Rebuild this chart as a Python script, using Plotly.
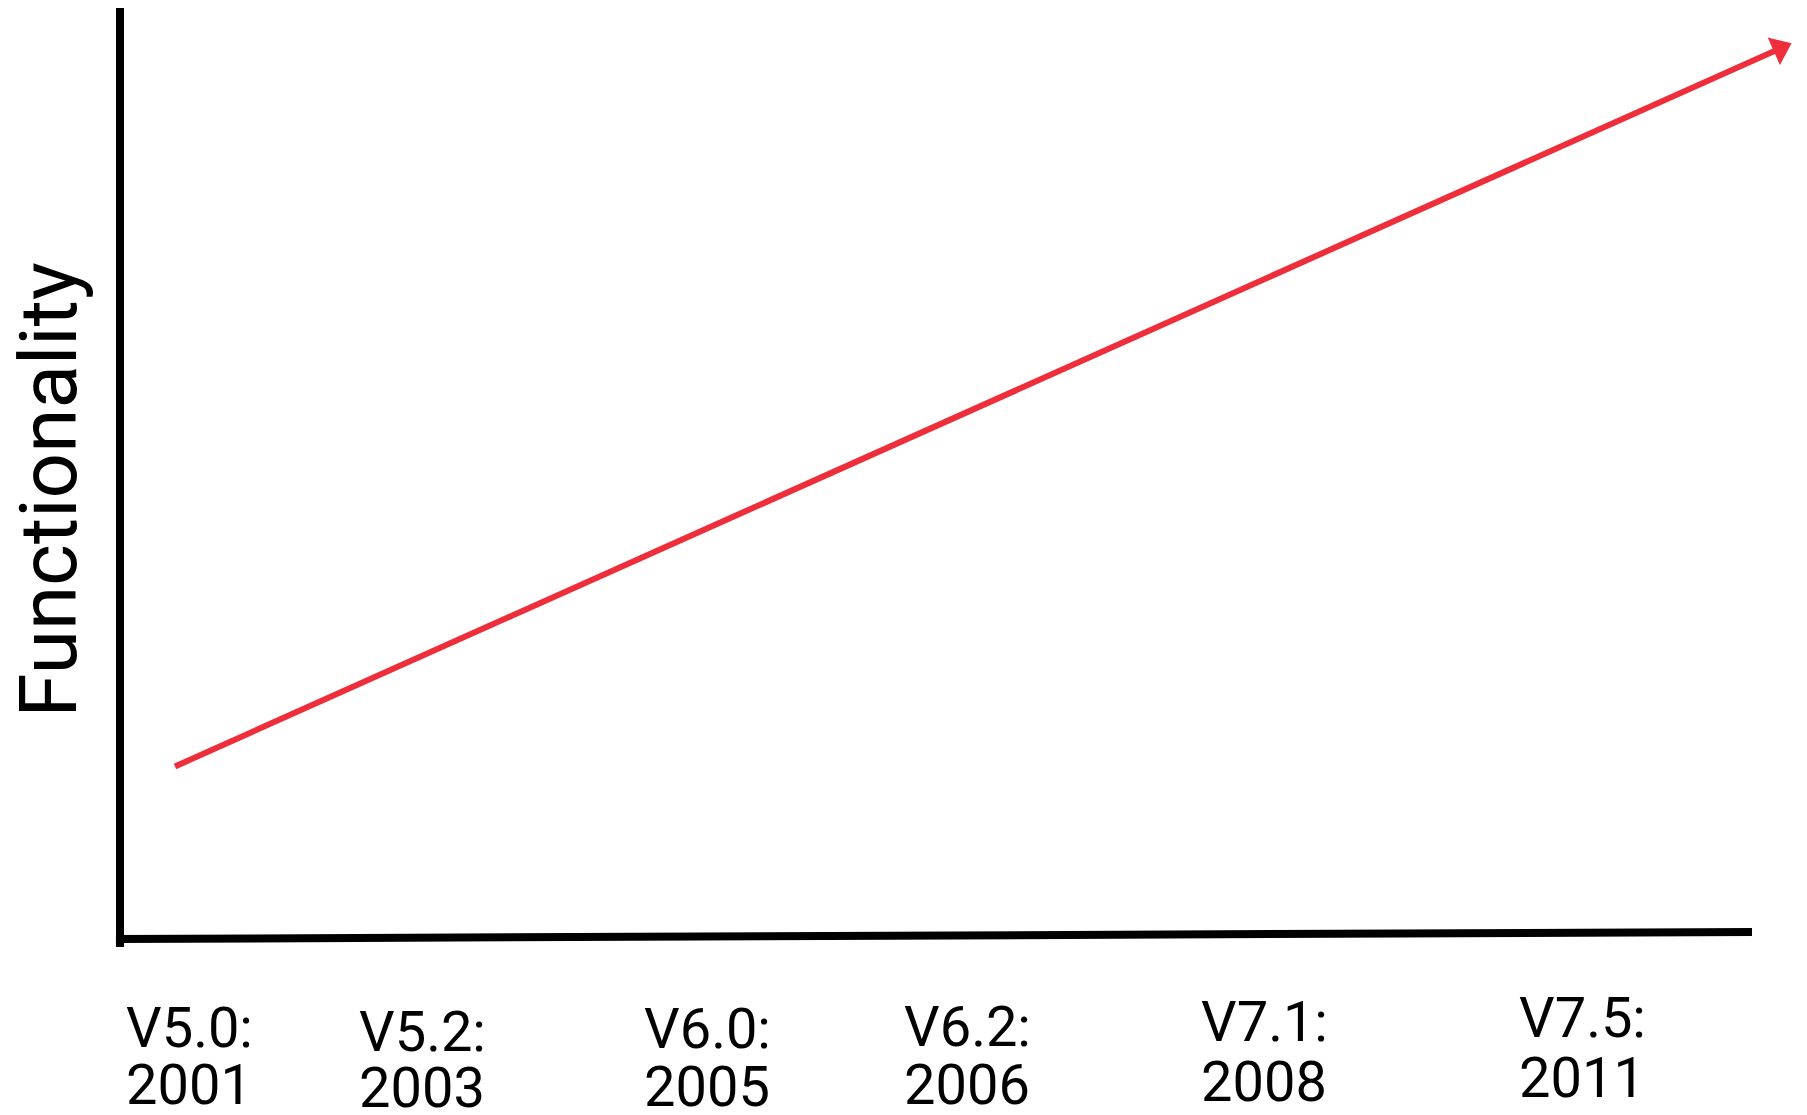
import plotly.graph_objects as go

# Conceptual data: functionality growth over releases (0-100 scales)
versions = ["V5.0:", "V5.2:", "V6.0:", "V6.2:", "V7.1:", "V7.5:"]
years = ["2001", "2003", "2005", "2006", "2008", "2011"]

trend_x = [3.37, 101.70]
trend_y = [18.5, 95.43]

# label placement (layout, in axis units)
label_x = [0.25, 14.53, 31.99, 47.92, 66.12, 85.60]
version_y = [-9.54, -9.97, -9.65, -9.43, -8.90, -8.47]
year_y = [-15.70, -15.97, -15.86, -15.65, -15.33, -14.90]

RED = "#EE2E3A"
FONT = "Roboto, Liberation Sans, sans-serif"

fig = go.Figure()
fig.add_trace(go.Scatter(
    x=trend_x, y=trend_y, mode="lines+markers",
    line=dict(color=RED, width=6),
    marker=dict(symbol="triangle-up", angleref="previous", size=[0, 26], color=RED,
                opacity=1, line=dict(width=0)),
    opacity=1,
    cliponaxis=False, hoverinfo="skip", showlegend=False,
))

for v, yr, xp, vy, yy in zip(versions, years, label_x, version_y, year_y):
    fig.add_annotation(x=xp, y=vy, xref="x", yref="y", text=v, height=52,
                       showarrow=False, xanchor="left", yanchor="middle",
                       font=dict(family=FONT, size=56, color="black"))
    fig.add_annotation(x=xp, y=yy, xref="x", yref="y", text=yr, height=52,
                       showarrow=False, xanchor="left", yanchor="middle",
                       font=dict(family=FONT, size=56, color="black"))

fig.add_annotation(x=-4.32, y=48.12, xref="x", yref="y", text="Functionality",
                   textangle=-90, showarrow=False, xanchor="center", yanchor="middle",
                   font=dict(family=FONT, size=80, color="black"))

# axes drawn as strokes
fig.add_shape(type="line", x0=0, x1=0, y0=-0.86, y1=100, xref="x", yref="y",
              line=dict(color="black", width=8))
fig.add_shape(type="line", x0=-0.25, x1=100, y0=0, y1=0.75, xref="x", yref="y",
              line=dict(color="black", width=8))

fig.update_layout(
    width=1807, height=1115,
    margin=dict(l=0, r=0, t=0, b=0),
    plot_bgcolor="white", paper_bgcolor="white",
    xaxis=dict(range=[-6.8627, 103.8603], showgrid=False, zeroline=False,
               showticklabels=False, ticks="", showline=False),
    yaxis=dict(range=[-19.721, 99.786], showgrid=False, zeroline=False,
               showticklabels=False, ticks="", showline=False),
)

fig.write_html("out.html")
